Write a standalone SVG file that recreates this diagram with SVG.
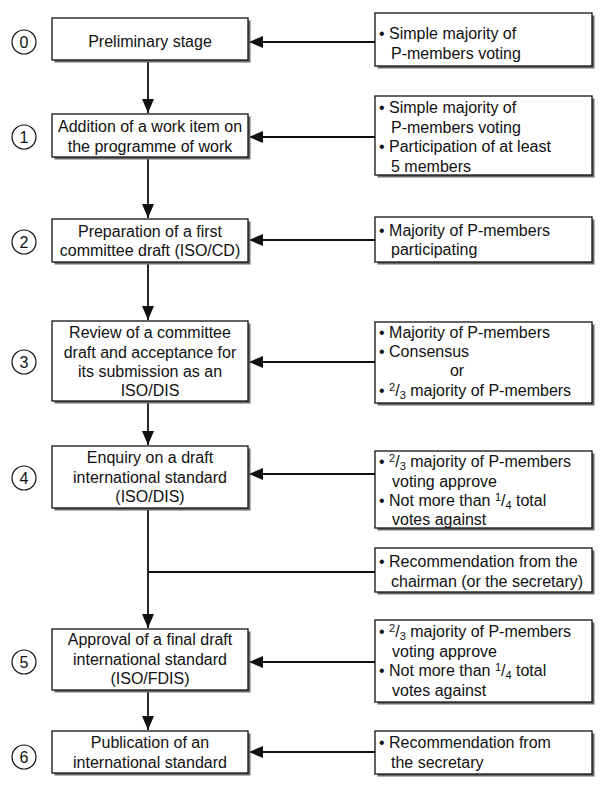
<svg xmlns="http://www.w3.org/2000/svg" width="600" height="791" viewBox="0 0 600 791">
<style>
  text { font-family: "Liberation Sans", Arial, sans-serif; font-size: 16px; fill: #111; }
  .c { text-anchor: middle; }
  .num { font-size: 16px; text-anchor: middle; }
  .box { fill: #fff; stroke: #111; stroke-width: 1.3; }
  .sh { fill: #6a6a6a; }
  .circ { fill: #fff; stroke: #111; stroke-width: 1.2; }
  .ln { stroke: #111; stroke-width: 1.8; fill: none; }
  .sm { font-size: 11px; }
</style>
<defs>
  <marker id="ah" markerUnits="userSpaceOnUse" markerWidth="14" markerHeight="12" refX="14" refY="6" orient="auto">
    <path d="M0,0 L14,6 L0,12 Z" fill="#111"/>
  </marker>
</defs>
<rect width="600" height="791" fill="#fff"/>

<g id="connectors">
  <line class="ln" x1="148" y1="61" x2="148" y2="113" marker-end="url(#ah)"/>
  <line class="ln" x1="148" y1="157" x2="148" y2="218" marker-end="url(#ah)"/>
  <line class="ln" x1="148" y1="262" x2="148" y2="320" marker-end="url(#ah)"/>
  <line class="ln" x1="148" y1="401" x2="148" y2="445" marker-end="url(#ah)"/>
  <line class="ln" x1="148" y1="508" x2="148" y2="628" marker-end="url(#ah)"/>
  <line class="ln" x1="148" y1="690" x2="148" y2="730" marker-end="url(#ah)"/>
  <line class="ln" x1="375" y1="42" x2="249" y2="42" marker-end="url(#ah)"/>
  <line class="ln" x1="375" y1="137" x2="249" y2="137" marker-end="url(#ah)"/>
  <line class="ln" x1="375" y1="240" x2="249" y2="240" marker-end="url(#ah)"/>
  <line class="ln" x1="375" y1="362" x2="249" y2="362" marker-end="url(#ah)"/>
  <line class="ln" x1="375" y1="474" x2="249" y2="474" marker-end="url(#ah)"/>
  <line class="ln" x1="375" y1="572" x2="148" y2="572"/>
  <line class="ln" x1="375" y1="662" x2="249" y2="662" marker-end="url(#ah)"/>
  <line class="ln" x1="375" y1="752" x2="249" y2="752" marker-end="url(#ah)"/>
</g>

<g id="stage0">
  <circle class="circ" cx="24" cy="42" r="12"/>
  <text class="num" x="24" y="47.8">0</text>
  <rect class="sh" x="54.5" y="20.5" width="196" height="42"/>
  <rect class="box" x="52" y="18" width="196" height="42"/>
  <text class="c" x="150" y="47">Preliminary stage</text>
</g>
<g id="stage1">
  <circle class="circ" cx="24" cy="137" r="12"/>
  <text class="num" x="24" y="142.8">1</text>
  <rect class="sh" x="54.5" y="116.5" width="196" height="43"/>
  <rect class="box" x="52" y="114" width="196" height="43"/>
  <text class="c" x="150" y="132">Addition of a work item on</text>
  <text class="c" x="150" y="151.5">the programme of work</text>
</g>
<g id="stage2">
  <circle class="circ" cx="24" cy="242" r="12"/>
  <text class="num" x="24" y="247.8">2</text>
  <rect class="sh" x="54.5" y="221.5" width="196" height="43"/>
  <rect class="box" x="52" y="219" width="196" height="43"/>
  <text class="c" x="150" y="236.5">Preparation of a first</text>
  <text class="c" x="150" y="256">committee draft (ISO/CD)</text>
</g>
<g id="stage3">
  <circle class="circ" cx="24" cy="362" r="12"/>
  <text class="num" x="24" y="367.8">3</text>
  <rect class="sh" x="54.5" y="323.5" width="196" height="80"/>
  <rect class="box" x="52" y="321" width="196" height="80"/>
  <text class="c" x="150" y="338">Review of a committee</text>
  <text class="c" x="150" y="357.5">draft and acceptance for</text>
  <text class="c" x="150" y="377">its submission as an</text>
  <text class="c" x="150" y="396">ISO/DIS</text>
</g>
<g id="stage4">
  <circle class="circ" cx="24" cy="478" r="12"/>
  <text class="num" x="24" y="483.8">4</text>
  <rect class="sh" x="54.5" y="448.5" width="196" height="62"/>
  <rect class="box" x="52" y="446" width="196" height="62"/>
  <text class="c" x="150" y="463">Enquiry on a draft</text>
  <text class="c" x="150" y="482.5">international standard</text>
  <text class="c" x="150" y="502">(ISO/DIS)</text>
</g>
<g id="stage5">
  <circle class="circ" cx="24" cy="662" r="12"/>
  <text class="num" x="24" y="667.8">5</text>
  <rect class="sh" x="54.5" y="631.5" width="196" height="61"/>
  <rect class="box" x="52" y="629" width="196" height="61"/>
  <text class="c" x="150" y="645">Approval of a final draft</text>
  <text class="c" x="150" y="664.5">international standard</text>
  <text class="c" x="150" y="684">(ISO/FDIS)</text>
</g>
<g id="stage6">
  <circle class="circ" cx="24" cy="757" r="12"/>
  <text class="num" x="24" y="762.8">6</text>
  <rect class="sh" x="54.5" y="733.5" width="196" height="42"/>
  <rect class="box" x="52" y="731" width="196" height="42"/>
  <text class="c" x="150" y="748">Publication of an</text>
  <text class="c" x="150" y="767.5">international standard</text>
</g>

<g id="cond0">
  <rect class="sh" x="377.5" y="15.5" width="217" height="53"/>
  <rect class="box" x="375" y="13" width="217" height="53"/>
  <text x="379" y="38.5">• Simple majority of</text>
  <text x="391" y="58.5">P-members voting</text>
</g>
<g id="cond1">
  <rect class="sh" x="377.5" y="98.5" width="217" height="79"/>
  <rect class="box" x="375" y="96" width="217" height="79"/>
  <text x="379" y="113">• Simple majority of</text>
  <text x="391" y="132.5">P-members voting</text>
  <text x="379" y="152">• Participation of at least</text>
  <text x="391" y="171.5">5 members</text>
</g>
<g id="cond2">
  <rect class="sh" x="377.5" y="219.5" width="217" height="45"/>
  <rect class="box" x="375" y="217" width="217" height="45"/>
  <text x="379" y="235.5">• Majority of P-members</text>
  <text x="391" y="255">participating</text>
</g>
<g id="cond3">
  <rect class="sh" x="377.5" y="324.5" width="217" height="81"/>
  <rect class="box" x="375" y="322" width="217" height="81"/>
  <text x="379" y="338">• Majority of P-members</text>
  <text x="379" y="357">• Consensus</text>
  <text class="c" x="457" y="376">or</text>
  <text x="379" y="396">• <tspan class="sm" dy="-5">2</tspan><tspan dy="5">/</tspan><tspan class="sm" dy="3">3</tspan><tspan dy="-3"> majority of P-members</tspan></text>
</g>
<g id="cond4">
  <rect class="sh" x="377.5" y="453.5" width="217" height="77"/>
  <rect class="box" x="375" y="451" width="217" height="77"/>
  <text x="379" y="466.5">•  <tspan class="sm" dy="-5">2</tspan><tspan dy="5">/</tspan><tspan class="sm" dy="3">3</tspan><tspan dy="-3"> majority of P-members</tspan></text>
  <text x="392" y="486.5">voting approve</text>
  <text x="379" y="506">• Not more than <tspan class="sm" dy="-5">1</tspan><tspan dy="5">/</tspan><tspan class="sm" dy="3">4</tspan><tspan dy="-3"> total</tspan></text>
  <text x="392" y="525">votes against</text>
</g>
<g id="cond4b">
  <rect class="sh" x="377.5" y="550.5" width="217" height="44"/>
  <rect class="box" x="375" y="548" width="217" height="44"/>
  <text x="379" y="566.5">• Recommendation from the</text>
  <text x="391" y="586.5">chairman (or the secretary)</text>
</g>
<g id="cond5">
  <rect class="sh" x="377.5" y="622.5" width="217" height="82"/>
  <rect class="box" x="375" y="620" width="217" height="82"/>
  <text x="379" y="636.5">•  <tspan class="sm" dy="-5">2</tspan><tspan dy="5">/</tspan><tspan class="sm" dy="3">3</tspan><tspan dy="-3"> majority of P-members</tspan></text>
  <text x="392" y="656.5">voting approve</text>
  <text x="379" y="676">• Not more than <tspan class="sm" dy="-5">1</tspan><tspan dy="5">/</tspan><tspan class="sm" dy="3">4</tspan><tspan dy="-3"> total</tspan></text>
  <text x="392" y="695.5">votes against</text>
</g>
<g id="cond6">
  <rect class="sh" x="377.5" y="733.5" width="217" height="43"/>
  <rect class="box" x="375" y="731" width="217" height="43"/>
  <text x="379" y="748">• Recommendation from</text>
  <text x="391" y="768">the secretary</text>
</g>
</svg>
